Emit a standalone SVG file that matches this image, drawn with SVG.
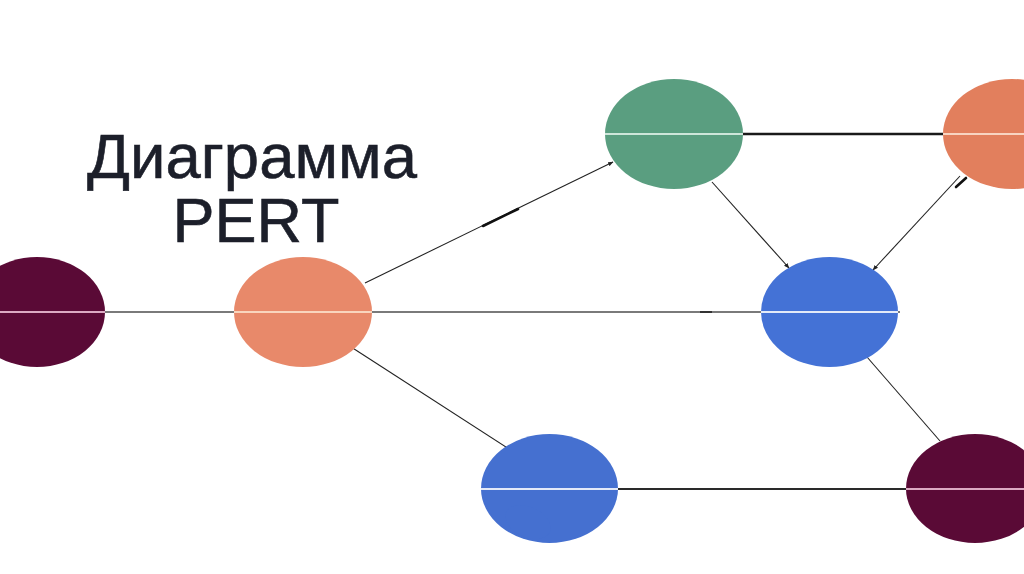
<svg xmlns="http://www.w3.org/2000/svg" width="1024" height="574" viewBox="0 0 1024 574">
<style>
.title{font-family:"Liberation Sans",Arial,sans-serif;font-size:63px;fill:#1c1f2a;text-anchor:middle;stroke:#1c1f2a;stroke-width:0.6}
.thin{stroke:#222;stroke-width:1.1;fill:none}
.mark{stroke:#111;stroke-width:2.6;stroke-linecap:round}
.mid{stroke:#fff;stroke-width:2;opacity:0.85}
</style>
<defs>
<marker id="ah" viewBox="0 0 10 10" refX="9" refY="5" markerWidth="5" markerHeight="5" orient="auto">
<path d="M0,1 L10,5 L0,9 z" fill="#222"/>
</marker>
</defs>
<rect width="1024" height="574" fill="#fff"/>
<g id="title">
<text class="title" x="252" y="178" textLength="330" lengthAdjust="spacingAndGlyphs">Диаграмма</text>
<text class="title" x="256" y="242">PERT</text>
</g>
<g id="connectors">
<line x1="0" y1="312" x2="900" y2="312" stroke="#7a7a7a" stroke-width="2"/>
<line x1="743" y1="134" x2="943" y2="134" stroke="#1a1a1a" stroke-width="2.5"/>
<line x1="618" y1="489" x2="906" y2="489" stroke="#2a2a2a" stroke-width="2"/>
<line class="thin" x1="365" y1="283" x2="613" y2="162" marker-end="url(#ah)"/>
<line class="mark" x1="483" y1="226" x2="518" y2="209"/>
<line class="thin" x1="712" y1="182" x2="789" y2="268" marker-end="url(#ah)"/>
<line class="thin" x1="960" y1="176" x2="873" y2="270" marker-end="url(#ah)"/>
<line class="mark" x1="956" y1="187" x2="966" y2="178"/>
<line class="thin" x1="867" y1="357" x2="940" y2="441"/>
<line class="thin" x1="512" y1="451" x2="348" y2="345" marker-end="url(#ah)"/>
<line x1="700" y1="312" x2="712" y2="312" stroke="#333" stroke-width="2"/>
</g>
<g id="node-start">
<ellipse cx="37" cy="312" rx="68" ry="55" fill="#5a0a36"/>
<line class="mid" x1="0" y1="312" x2="105" y2="312" style="stroke:#f3c6dc"/>
</g>
<g id="node-a">
<ellipse cx="303" cy="312" rx="69" ry="55" fill="#e8896a"/>
<line class="mid" x1="234" y1="312" x2="372" y2="312" style="stroke:#fde3cc"/>
</g>
<g id="node-b">
<ellipse cx="674" cy="134" rx="69" ry="55" fill="#5a9e80"/>
<line class="mid" x1="605" y1="134" x2="743" y2="134" style="stroke:#e3f3ea"/>
</g>
<g id="node-c">
<ellipse cx="1012" cy="134" rx="69" ry="55" fill="#e27f5d"/>
<line class="mid" x1="943" y1="134" x2="1024" y2="134" style="stroke:#fde3d3"/>
</g>
<g id="node-d">
<ellipse cx="829.5" cy="312" rx="68.5" ry="55" fill="#4472d6"/>
<line class="mid" x1="761" y1="312" x2="898" y2="312"/>
</g>
<g id="node-e">
<ellipse cx="549.5" cy="488.5" rx="68.5" ry="54.5" fill="#4570d0"/>
<ellipse cx="528" cy="522" rx="24" ry="15" transform="rotate(25 528 522)" fill="#4570d0"/>
<line class="mid" x1="481" y1="489" x2="618" y2="489"/>
</g>
<g id="node-f">
<ellipse cx="975" cy="488.5" rx="69" ry="54.5" fill="#5a0a36"/>
<line class="mid" x1="906" y1="489" x2="1024" y2="489" style="stroke:#f3c6dc"/>
</g>
</svg>
